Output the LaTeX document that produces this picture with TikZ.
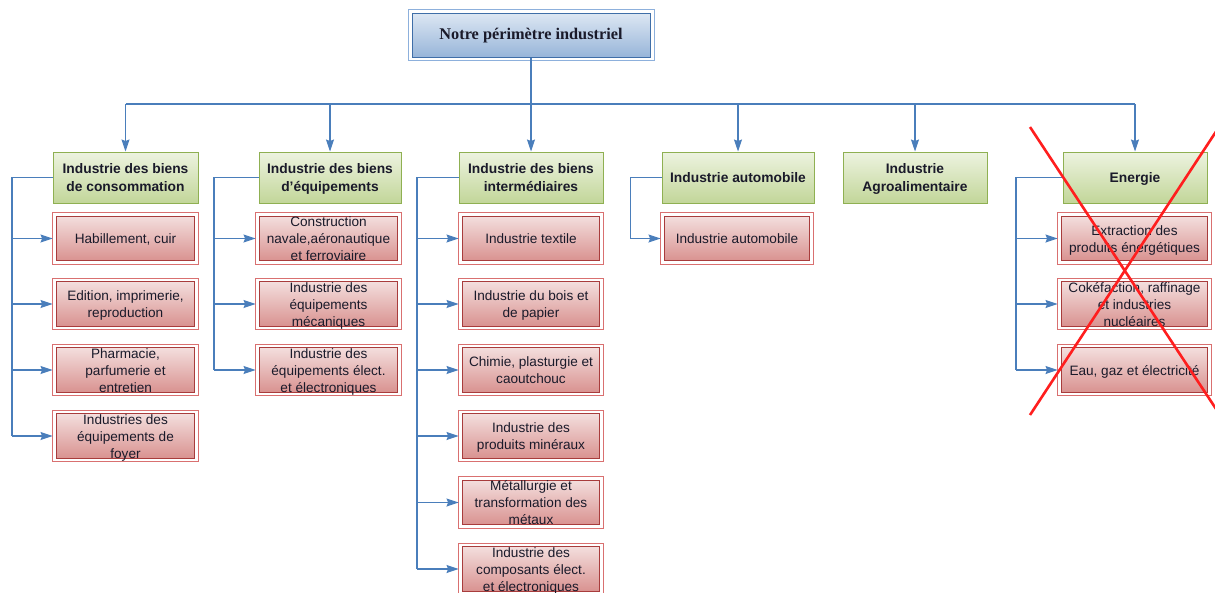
\documentclass[tikz,border=0pt]{standalone}
\usepackage{fontspec}
\setmainfont{Liberation Serif}
\setsansfont{Liberation Sans}
\usetikzlibrary{arrows.meta}
\definecolor{conncol}{HTML}{4A7EBB}
\definecolor{topin}{HTML}{3F6EA8}
\definecolor{topout}{HTML}{8DB0DC}
\definecolor{toptop}{HTML}{DDE7F3}
\definecolor{topbot}{HTML}{97B5D9}
\definecolor{grdraw}{HTML}{8FB052}
\definecolor{grtop}{HTML}{EDF3E0}
\definecolor{grbot}{HTML}{C2D699}
\definecolor{rdin}{HTML}{A83C3C}
\definecolor{rdout}{HTML}{D97070}
\definecolor{rdtop}{HTML}{F3DEDD}
\definecolor{rdbot}{HTML}{D99290}
\definecolor{txt}{HTML}{1A1A2A}
\definecolor{crosscol}{HTML}{FF1E1E}
\newcommand{\lt}[1]{\smash{\raisebox{-5.2pt}{\begin{tabular}{@{}c@{}}#1\end{tabular}}}}
\newcommand{\frameit}[2]{\draw[#2] ([shift={(-3.5,-3.2)}]#1.north west) rectangle ([shift={(3.5,3.2)}]#1.south east);}
\begin{document}
\begin{tikzpicture}[x=1pt,y=-1pt,
  topbox/.style={rectangle, draw=topin, line width=1pt, top color=toptop, bottom color=topbot,
    minimum width=238pt, minimum height=44pt, inner sep=0pt, text=txt,
    font=\rmfamily\bfseries\fontsize{16.3}{19}\selectfont},
  hdr/.style={rectangle, draw=grdraw, line width=1pt, top color=grtop, bottom color=grbot,
    minimum height=51pt, inner sep=0pt, text=txt,
    font=\sffamily\bfseries\fontsize{13.8}{18}\selectfont},
  leaf/.style={rectangle, draw=rdin, line width=0.9pt, top color=rdtop, bottom color=rdbot,
    minimum height=44.5pt, inner sep=0pt, text=txt,
    font=\sffamily\fontsize{13.6}{17}\selectfont},
  conn/.style={draw=conncol, line width=1.1pt},
  arr/.style={conn, -{Stealth[length=12pt, width=8pt, inset=1.5pt]}},
  outfr/.style={draw=rdout, line width=0.9pt},
  topfr/.style={draw=topout, line width=0.9pt}
]
\useasboundingbox (0,0) rectangle (1215,592);
\fill[white] (0,0) rectangle (1215,592);

% top node
\node[topbox] (top) at (531,35) {\lt{Notre périmètre industriel}};
\draw[topfr] ([shift={(-3.5,-3)}]top.north west) rectangle ([shift={(3.5,3)}]top.south east);

% headers
\node[hdr, minimum width=145pt] (h1) at (125.5,177.5) {\lt{Industrie des biens\\de consommation}};
\node[hdr, minimum width=142pt] (h2) at (330,177.5) {\lt{Industrie des biens\\d'équipements}};
\node[hdr, minimum width=144pt] (h3) at (531,177.5) {\lt{Industrie des biens\\intermédiaires}};
\node[hdr, minimum width=152pt] (h4) at (738,177.5) {\lt{Industrie automobile}};
\node[hdr, minimum width=144pt] (h5) at (915,177.5) {\lt{Industrie\\Agroalimentaire}};
\node[hdr, minimum width=144pt] (h6) at (1135,177.5) {\lt{Energie}};

% leaves column 1
\node[leaf, minimum width=138pt] (a1) at (125.5,238.5) {\lt{Habillement, cuir}};
\node[leaf, minimum width=138pt] (a2) at (125.5,304) {\lt{Edition, imprimerie,\\reproduction}};
\node[leaf, minimum width=138pt] (a3) at (125.5,370) {\lt{Pharmacie,\\parfumerie et\\entretien}};
\node[leaf, minimum width=138pt] (a4) at (125.5,436) {\lt{Industries des\\équipements de\\foyer}};
% column 2
\node[leaf, minimum width=138pt] (b1) at (328.5,238.5) {\lt{Construction\\navale,aéronautique\\et ferroviaire}};
\node[leaf, minimum width=138pt] (b2) at (328.5,304) {\lt{Industrie des\\équipements\\mécaniques}};
\node[leaf, minimum width=138pt] (b3) at (328.5,370) {\lt{Industrie des\\équipements élect.\\et électroniques}};
% column 3
\node[leaf, minimum width=137pt] (c1) at (531,238.5) {\lt{Industrie textile}};
\node[leaf, minimum width=137pt] (c2) at (531,304) {\lt{Industrie du bois et\\de papier}};
\node[leaf, minimum width=137pt] (c3) at (531,370) {\lt{Chimie, plasturgie et\\caoutchouc}};
\node[leaf, minimum width=137pt] (c4) at (531,436) {\lt{Industrie des\\produits minéraux}};
\node[leaf, minimum width=137pt] (c5) at (531,502.5) {\lt{Métallurgie et\\transformation des\\métaux}};
\node[leaf, minimum width=137pt] (c6) at (531,569) {\lt{Industrie des\\composants élect.\\et électroniques}};
% column 4
\node[leaf, minimum width=145pt] (d1) at (737,238.5) {\lt{Industrie automobile}};
% column 6
\node[leaf, minimum width=146pt] (e1) at (1134.5,238.5) {\lt{Extraction des\\produits énergétiques}};
\node[leaf, minimum width=146pt] (e2) at (1134.5,304) {\lt{Cokéfaction, raffinage\\et industries\\nucléaires}};
\node[leaf, minimum width=146pt] (e3) at (1134.5,370) {\lt{Eau, gaz et électricité}};

\foreach \n in {a1,a2,a3,a4,b1,b2,b3,c1,c2,c3,c4,c5,c6,d1,e1,e2,e3}{\frameit{\n}{outfr}}

% top bus
\coordinate (busL) at (125.5,104);
\coordinate (busR) at (1135,104);
\draw[conn] (top.south) -- (top.south |- busL);
\draw[conn] (busL) -- (busR);
\foreach \h in {h1,h2,h3,h4,h5,h6}{\draw[arr] (\h.north |- busL) -- (\h.north);}

% side buses
\coordinate (s1) at (12,0);
\coordinate (s2) at (214,0);
\coordinate (s3) at (417,0);
\coordinate (s4) at (630.5,0);
\coordinate (s6) at (1016,0);
\draw[conn] (h1.west) -- (s1 |- h1.west) -- (s1 |- a4.west);
\draw[conn] (h2.west) -- (s2 |- h2.west) -- (s2 |- b3.west);
\draw[conn] (h3.west) -- (s3 |- h3.west) -- (s3 |- c6.west);
\draw[conn] (h4.west) -- (s4 |- h4.west) -- (s4 |- d1.west);
\draw[conn] (h6.west) -- (s6 |- h6.west) -- (s6 |- e3.west);
\foreach \n in {a1,a2,a3,a4}{\draw[arr] (s1 |- \n.west) -- ([xshift=-3.5pt]\n.west);}
\foreach \n in {b1,b2,b3}{\draw[arr] (s2 |- \n.west) -- ([xshift=-3.5pt]\n.west);}
\foreach \n in {c1,c2,c3,c4,c5,c6}{\draw[arr] (s3 |- \n.west) -- ([xshift=-3.5pt]\n.west);}
\draw[arr] (s4 |- d1.west) -- ([xshift=-3.5pt]d1.west);
\foreach \n in {e1,e2,e3}{\draw[arr] (s6 |- \n.west) -- ([xshift=-3.5pt]\n.west);}

% red cross
\draw[crosscol, line width=2.6pt] (1030,127) -- (1222,418);
\draw[crosscol, line width=2.6pt] (1219,127) -- (1030,415);
\end{tikzpicture}
\end{document}
